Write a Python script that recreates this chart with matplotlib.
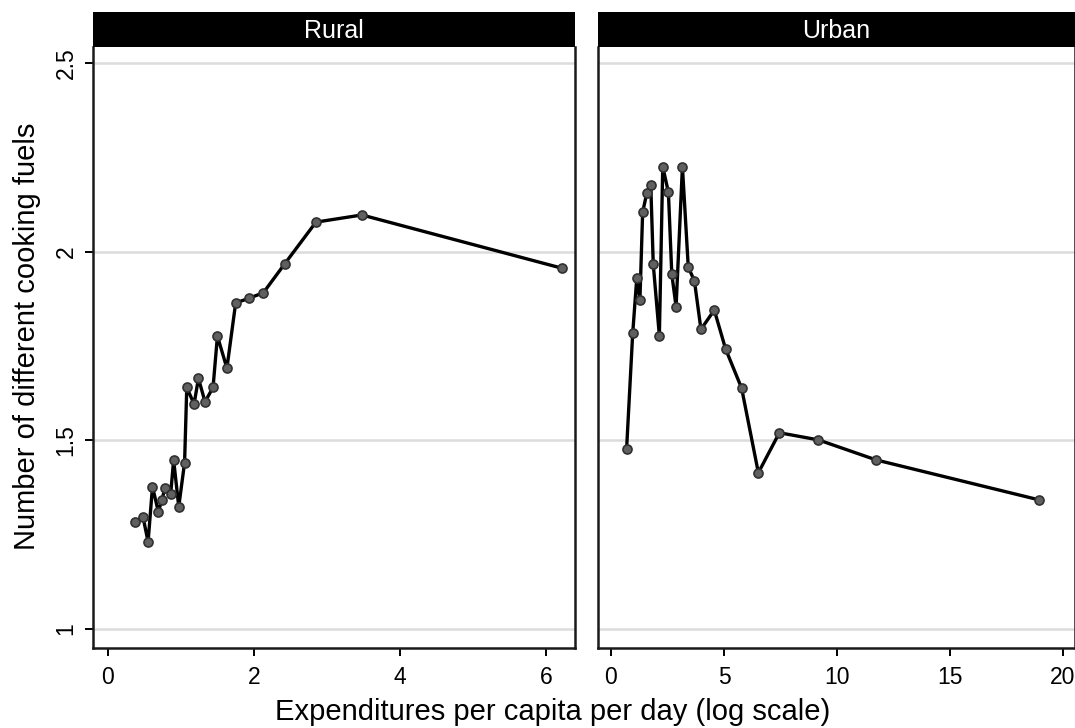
import matplotlib
matplotlib.use("Agg")
import matplotlib.pyplot as plt
from matplotlib.ticker import FixedLocator

plt.rcParams['font.family'] = ['Liberation Sans', 'DejaVu Sans']

# Mean number of cooking fuels by expenditure group
rural_x = [0.37, 0.48, 0.55, 0.61, 0.69, 0.74, 0.78, 0.86, 0.90, 0.97, 1.05,
           1.08, 1.18, 1.24, 1.33, 1.44, 1.50, 1.63, 1.75, 1.93, 2.13, 2.42,
           2.85, 3.48, 6.22]
rural_y = [1.284, 1.297, 1.231, 1.377, 1.311, 1.342, 1.373, 1.359, 1.448,
           1.324, 1.441, 1.640, 1.596, 1.664, 1.602, 1.640, 1.776, 1.691,
           1.864, 1.876, 1.891, 1.967, 2.078, 2.097, 1.956]

urban_x = [0.69, 0.96, 1.14, 1.28, 1.40, 1.58, 1.76, 1.87, 2.14, 2.29, 2.54,
           2.69, 2.88, 3.16, 3.42, 3.69, 3.98, 4.57, 5.07, 5.78, 6.52, 7.45,
           9.18, 11.73, 18.95]
urban_y = [1.477, 1.783, 1.929, 1.872, 2.104, 2.154, 2.176, 1.966, 1.777,
           2.225, 2.157, 1.940, 1.854, 2.225, 1.958, 1.923, 1.794, 1.845,
           1.742, 1.638, 1.414, 1.520, 1.501, 1.448, 1.342]

panel_titles = ["Rural", "Urban"]
y_ticks = [1, 1.5, 2, 2.5]
y_ticklabels = ["1", "1.5", "2", "2.5"]
rural_xticks = [0, 2, 4, 6]
urban_xticks = [0, 5, 10, 15, 20]

W, H = 1075, 728
fig = plt.figure(figsize=(W / 100, H / 100), dpi=100)

def frac_box(x0, x1, y0, y1):
    return [x0 / W, 1 - y1 / H, (x1 - x0) / W, (y1 - y0) / H]

panels = [
    dict(box=(93, 575), xlim=(-0.205, 6.40), x=rural_x, y=rural_y,
         xticks=rural_xticks, title=panel_titles[0]),
    dict(box=(598, 1075), xlim=(-0.575, 20.53), x=urban_x, y=urban_y,
         xticks=urban_xticks, title=panel_titles[1]),
]

for i, p in enumerate(panels):
    x0, x1 = p["box"]
    ax = fig.add_axes(frac_box(x0, x1, 47, 648))
    ax.set_xlim(*p["xlim"])
    ax.set_ylim(0.9497, 2.542)
    for yv in y_ticks:
        ax.axhline(yv, color="#dcdcdc", lw=1.8, zorder=0)
    ax.plot(p["x"], p["y"], color="black", lw=2.4, marker="o",
            markersize=6.5, markerfacecolor="#606060",
            markeredgecolor="#303030", markeredgewidth=1.2, zorder=3)
    ax.xaxis.set_major_locator(FixedLocator(p["xticks"]))
    ax.set_xticklabels([str(t) for t in p["xticks"]], fontsize=16.5)
    ax.tick_params(axis="x", length=6, width=1.4, pad=7)
    ax.yaxis.set_major_locator(FixedLocator(y_ticks))
    if i == 0:
        ax.set_yticklabels(y_ticklabels, fontsize=16.5, rotation=90, va="center")
        ax.tick_params(axis="y", length=6, width=1.4, pad=5)
    else:
        ax.tick_params(axis="y", length=0, labelleft=False)
    for side in ["left", "right", "bottom"]:
        ax.spines[side].set_linewidth(1.8)
        ax.spines[side].set_color("#1a1a1a")
    ax.spines["top"].set_visible(False)

    strip = fig.add_axes(frac_box(x0, x1, 12, 47))
    strip.set_facecolor("black")
    strip.set_xticks([])
    strip.set_yticks([])
    for s in strip.spines.values():
        s.set_visible(False)
    strip.text(0.5, 0.47, p["title"], color="white", fontsize=18,
               ha="center", va="center", transform=strip.transAxes)

fig.text(0.514, 1 - 712 / H, "Expenditures per capita per day (log scale)",
         ha="center", va="center", fontsize=21)
fig.text(27 / W, 1 - 336 / H, "Number of different cooking fuels",
         ha="center", va="center", fontsize=21, rotation=90)

fig.savefig("out.png", dpi=100)
